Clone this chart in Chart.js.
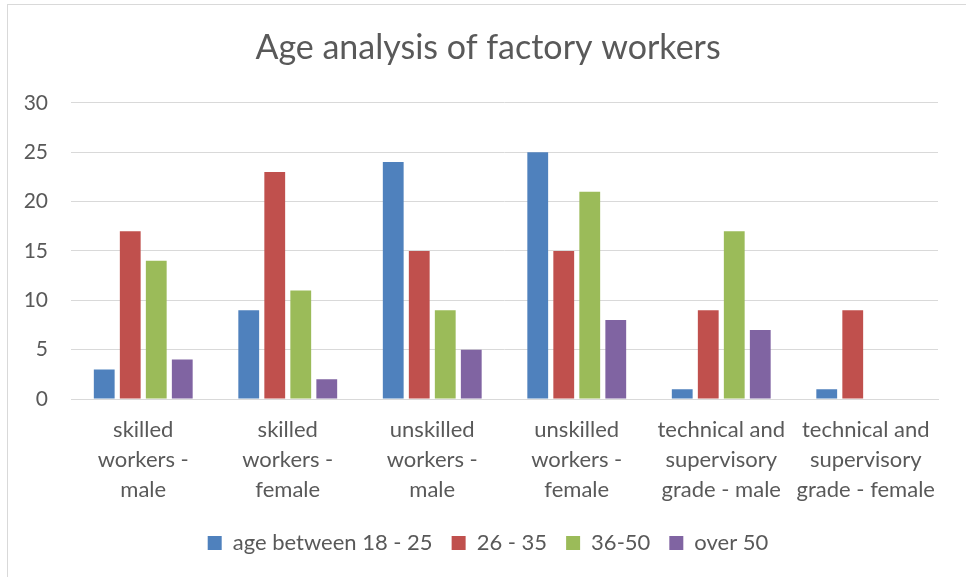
<!DOCTYPE html>
<html>
<head>
<meta charset="utf-8">
<script src="https://cdn.jsdelivr.net/npm/chart.js@4/dist/chart.umd.min.js"></script>
<style>
    html, body { margin: 0; padding: 0; background: #fff; overflow: hidden; }
    #wrap {
        position: absolute;
        left: 7px;
        top: 4px;
        width: 960px;
        height: 580px;
        border: 1px solid #d9d9d9;
        background: #fff;
    }
</style>
</head>
<body>
<div id="wrap"><canvas id="bar_chart"></canvas></div>
<script>
const categories = [
    ["skilled", "workers -", "male"],
    ["skilled", "workers -", "female"],
    ["unskilled", "workers -", "male"],
    ["unskilled", "workers -", "female"],
    ["technical and", "supervisory", "grade - male"],
    ["technical and", "supervisory", "grade - female"]
];

const seriesNames = ["age between 18 - 25", "26 - 35", "36-50", "over 50"];

const age18to25 = [3, 9, 24, 25, 1, 1];
const age26to35 = [17, 23, 15, 15, 9, 9];
const age36to50 = [14, 11, 9, 21, 17, null];
const over50 = [4, 2, 5, 8, 7, null];

const colors = ["#4f81bd", "#c0504d", "#9bbb59", "#8064a2"];

const textColor = "#595959";
const fontFamily = "Lato, 'Open Sans', sans-serif";

const onload = () => {
    const ctx = document.getElementById("bar_chart").getContext("2d");
    const values = [age18to25, age26to35, age36to50, over50];

    new Chart(ctx, {
        type: "bar",
        data: {
            labels: categories,
            datasets: seriesNames.map((name, i) => ({
                label: name,
                data: values[i],
                backgroundColor: colors[i],
                borderWidth: 0,
                barPercentage: 0.8,
                categoryPercentage: 0.72
            }))
        },
        options: {
            responsive: true,
            maintainAspectRatio: false,
            animation: false,
            layout: {
                padding: { left: 30, right: 30, top: 0, bottom: 21 }
            },
            plugins: {
                title: {
                    display: true,
                    text: "Age analysis of factory workers",
                    color: textColor,
                    font: { family: fontFamily, size: 34, weight: "normal" },
                    padding: { top: 23, bottom: 34 }
                },
                legend: {
                    position: "bottom",
                    labels: {
                        color: textColor,
                        font: { family: fontFamily, size: 22 },
                        boxWidth: 14,
                        boxHeight: 14,
                        padding: 19
                    }
                },
                tooltip: { enabled: false }
            },
            scales: {
                x: {
                    afterFit: (scale) => { scale.height = 114; },
                    grid: { display: false, drawTicks: false },
                    border: { color: "#d9d9d9", width: 1 },
                    ticks: {
                        color: textColor,
                        font: { family: fontFamily, size: 22, lineHeight: 30 / 22 },
                        padding: 16,
                        maxRotation: 0,
                        autoSkip: false
                    }
                },
                y: {
                    min: 0,
                    max: 30,
                    afterFit: (scale) => {
                        scale.width = 33;
                        // tick labels reach into the padding, so don't clip them
                        scale._computeLabelArea = () => undefined;
                    },
                    grid: { color: "#d9d9d9", drawTicks: false },
                    border: { display: false },
                    ticks: {
                        stepSize: 5,
                        color: textColor,
                        font: { family: fontFamily, size: 21 },
                        padding: 23
                    }
                }
            }
        }
    });
};

document.addEventListener("DOMContentLoaded", onload);
</script>
</body>
</html>
